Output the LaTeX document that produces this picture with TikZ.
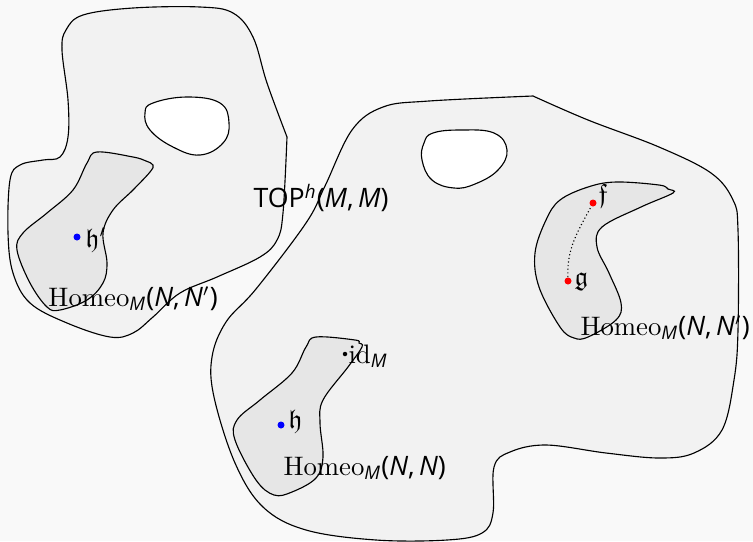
\documentclass[tikz,border=0pt]{standalone}
\usepackage{fontspec}
\usepackage{amssymb}
\newfontfamily\fsans{Open Sans}
\definecolor{bgc}{RGB}{249,249,249}
\definecolor{blobc}{RGB}{242,242,242}
\definecolor{innerc}{RGB}{230,230,230}
\newcommand{\sitl}[1]{{\fsans\itshape #1}}
\tikzset{
  blob/.style={draw=black, line width=0.45pt, fill=blobc},
  hole/.style={draw=black, line width=0.45pt, fill=white},
  innerblob/.style={draw=black, line width=0.45pt, fill=innerc},
  lbl/.style={font=\fontsize{10.7}{13}\selectfont, inner sep=0pt},
  bluedot/.style={circle, fill=blue, inner sep=0pt, minimum size=2.8pt},
  reddot/.style={circle, fill=red, inner sep=0pt, minimum size=2.8pt},
  blackdot/.style={circle, fill=black, inner sep=0pt, minimum size=1.8pt},
}
\begin{document}
\begin{tikzpicture}[x=0.4pt, y=-0.4pt]
\fill[bgc] (0,0) rectangle (753,541);
\useasboundingbox (0,0) rectangle (753,541);

% left big blob
\draw[blob] plot[smooth, tension=0.6] coordinates {
 (287,137) (283,213) (277,240) (260,257) (217,277) (180,293) (153,317) (133,333)
 (110,337) (67,323) (30,303) (13,273) (8,233) (10,180) (20,165) (43,160) (60,157)
 (68,137) (68,100) (62,50) (66,30) (83,15) (133,8) (200,7) (233,13) (253,37) (267,83) (287,137)} -- cycle;
% left hole
\draw[hole] plot[smooth cycle, tension=0.7] coordinates {
 (153,103) (187,97) (220,103) (229,123) (223,143) (200,155) (173,147) (150,130) (145,113)};
% left inner blob
\draw[innerblob] plot[smooth cycle, tension=0.6] coordinates {
 (97,152) (133,157) (146,161) (153,165) (150,172) (133,190) (113,210) (103,233) (107,263)
 (103,283) (87,300) (60,310) (47,307) (30,283) (17,250) (23,233) (47,213) (73,190) (87,163)};

% right big blob
\draw[blob] plot[smooth, tension=0.6] coordinates {
 (533,96) (588,120) (659,147) (711,173) (733,200) (738,230) (738,330) (734,380) (722,430)
 (694,453) (659,458) (606,453) (546,445) (510,452) (494,467) (493,513) (482,533) (447,540)
 (376,540) (306,530) (263,507) (235,463) (214,397) (212,357) (226,322) (256,289) (306,223)
 (325,186) (352,130) (383,107) (429,101) (533,96)} -- cycle;
% right hole
\draw[hole] plot[smooth cycle, tension=0.7] coordinates {
 (433,133) (461,130) (494,133) (507,150) (498,170) (475,184) (454,188) (432,180) (422,160) (424,143)};
% right inner blob (Homeo(N,N'))
\draw[innerblob] plot[smooth cycle, tension=0.6] coordinates {
 (588,187) (616,182) (659,185) (668,189) (673,193) (641,207) (602,227) (597,247) (609,273)
 (621,303) (616,320) (588,337) (574,338) (560,327) (539,287) (535,253) (546,220) (560,200)};
% bottom inner blob (Homeo(N,N))
\draw[innerblob] plot[smooth cycle, tension=0.6] coordinates {
 (316,337) (355,340) (359,343) (362,347) (348,367) (323,400) (320,423) (323,457) (316,478)
 (292,492) (274,495) (256,480) (235,440) (237,420) (260,400) (292,373) (306,347)};

% points
\node[bluedot] (hp) at (77,237) {};
\node[lbl, anchor=west] (hplbl) at (85,240) {$\mathfrak{h}'$};
\node[bluedot] (h) at (281,425) {};
\node[lbl, anchor=west] (hlbl) at (288,422) {$\mathfrak{h}$};
\node[blackdot] (id) at (345,354) {};
\node[lbl, anchor=west] (idlbl) at (348,356) {id\textsubscript{\sitl{M}}};
\node[reddot] (f) at (593,203) {};
\node[reddot] (g) at (568,281) {};
\node[lbl, anchor=west] (flbl) at (598,196) {$\mathfrak{f}$};
\node[lbl, anchor=west] (glbl) at (574,282) {$\mathfrak{g}$};
\draw[densely dotted, line width=0.45pt] (g) to[out=92, in=242] (f);

% labels
\node[lbl] (top) at (321,198) {\fsans TOP\textsuperscript{\itshape h}(\itshape M\upshape,\,\itshape M\upshape)};
\node[lbl, anchor=west] (homeoL) at (48,299) {Homeo\textsubscript{\sitl{M}}{\fsans(\itshape N\upshape,\,\itshape N}$'${\fsans)}};
\node[lbl, anchor=west] (homeoB) at (283,468) {Homeo\textsubscript{\sitl{M}}{\fsans(\itshape N\upshape,\,\itshape N\upshape)}};
\node[lbl, anchor=west] (homeoR) at (580,328) {Homeo\textsubscript{\sitl{M}}{\fsans(\itshape N\upshape,\,\itshape N}$'${\fsans)}};
\end{tikzpicture}
\end{document}
